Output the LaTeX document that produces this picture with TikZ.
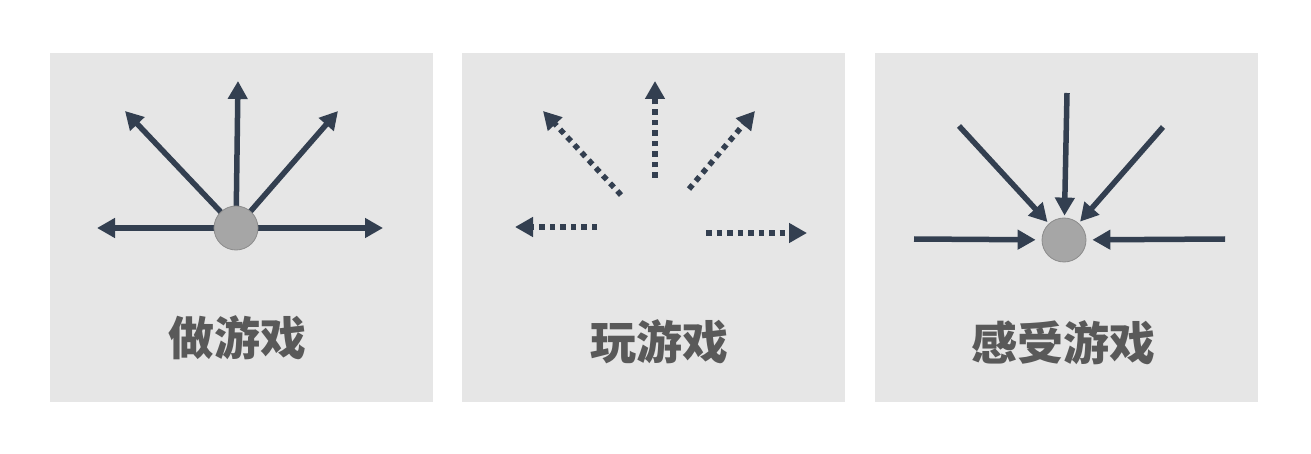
\documentclass[tikz,border=0pt]{standalone}
\usepackage{fontspec}
\newfontfamily\cjk{Noto Sans CJK SC Black}
\usetikzlibrary{arrows.meta}
\definecolor{panelbg}{HTML}{E6E6E6}
\definecolor{arrowc}{HTML}{333F50}
\definecolor{dotfill}{HTML}{A6A6A6}
\definecolor{dotline}{HTML}{8C8C8C}
\definecolor{labelc}{HTML}{595959}
\tikzset{
  panel/.style={fill=panelbg, draw=none},
  hub/.style={circle, fill=dotfill, draw=dotline, line width=0.8pt, minimum size=44pt, inner sep=0pt},
  ray/.style={draw=arrowc, line width=5.5pt, -{Triangle[length=18pt,width=19pt]}},
  dotray/.style={ray, dash pattern=on 5.5pt off 5pt},
  lbl/.style={font=\cjk\fontsize{46}{52}\selectfont, text=labelc, inner sep=0pt}
}
\begin{document}
\begin{tikzpicture}[x=1pt,y=-1pt]
\useasboundingbox (0,0) rectangle (1311,454);
\fill[white] (0,0) rectangle (1311,454);
% panels
\node[panel, minimum width=383pt, minimum height=349pt, anchor=north west] (p1) at (50,53) {};
\node[panel, minimum width=383pt, minimum height=349pt, anchor=north west] (p2) at (462,53) {};
\node[panel, minimum width=383pt, minimum height=349pt, anchor=north west] (p3) at (875,53) {};

% panel 1
\coordinate (a1l) at (97,228);
\coordinate (a1r) at (383,228);
\coordinate (a1u) at (238,81);
\coordinate (a1ul) at (125,111);
\coordinate (a1ur) at (338,111);
\coordinate (c1c) at (236,228);
\draw[ray] (c1c) -- (a1l);
\draw[ray] (c1c) -- (a1r);
\draw[ray] (c1c) -- (a1u);
\draw[ray] (c1c) -- (a1ul);
\draw[ray] (c1c) -- (a1ur);
\node[hub] (c1) at (c1c) {};
\node[lbl] (l1) at (237,338) {做游戏};

% panel 2
\coordinate (b2us) at (655,178);
\coordinate (b2ut) at (655,81);
\coordinate (b2uls) at (621,195);
\coordinate (b2ult) at (543,111);
\coordinate (b2urs) at (689,189);
\coordinate (b2urt) at (755,111);
\coordinate (b2ls) at (597,227);
\coordinate (b2lt) at (515,227);
\coordinate (b2rs) at (706,233);
\coordinate (b2rt) at (807,233);
\draw[dotray] (b2us) -- (b2ut);
\draw[dotray] (b2uls) -- (b2ult);
\draw[dotray] (b2urs) -- (b2urt);
\draw[dotray] (b2ls) -- (b2lt);
\draw[dotray] (b2rs) -- (b2rt);
\node[lbl] (l2) at (659,342) {玩游戏};

% panel 3
\node[hub] (c3) at (1064,240) {};
\coordinate (s3l) at (914,239);
\coordinate (s3r) at (1225,239);
\coordinate (s3u) at (1067,93);
\coordinate (s3ul) at (959,126);
\coordinate (s3ur) at (1163,127);
\draw[ray, shorten >=6pt] (s3l) -- (c3);
\draw[ray, shorten >=6pt] (s3r) -- (c3);
\draw[ray, shorten >=2pt] (s3u) -- (c3);
\draw[ray, shorten >=2pt] (s3ul) -- (c3);
\draw[ray, shorten >=2pt] (s3ur) -- (c3);
\node[lbl] (l3) at (1063,343) {感受游戏};
\end{tikzpicture}
\end{document}
